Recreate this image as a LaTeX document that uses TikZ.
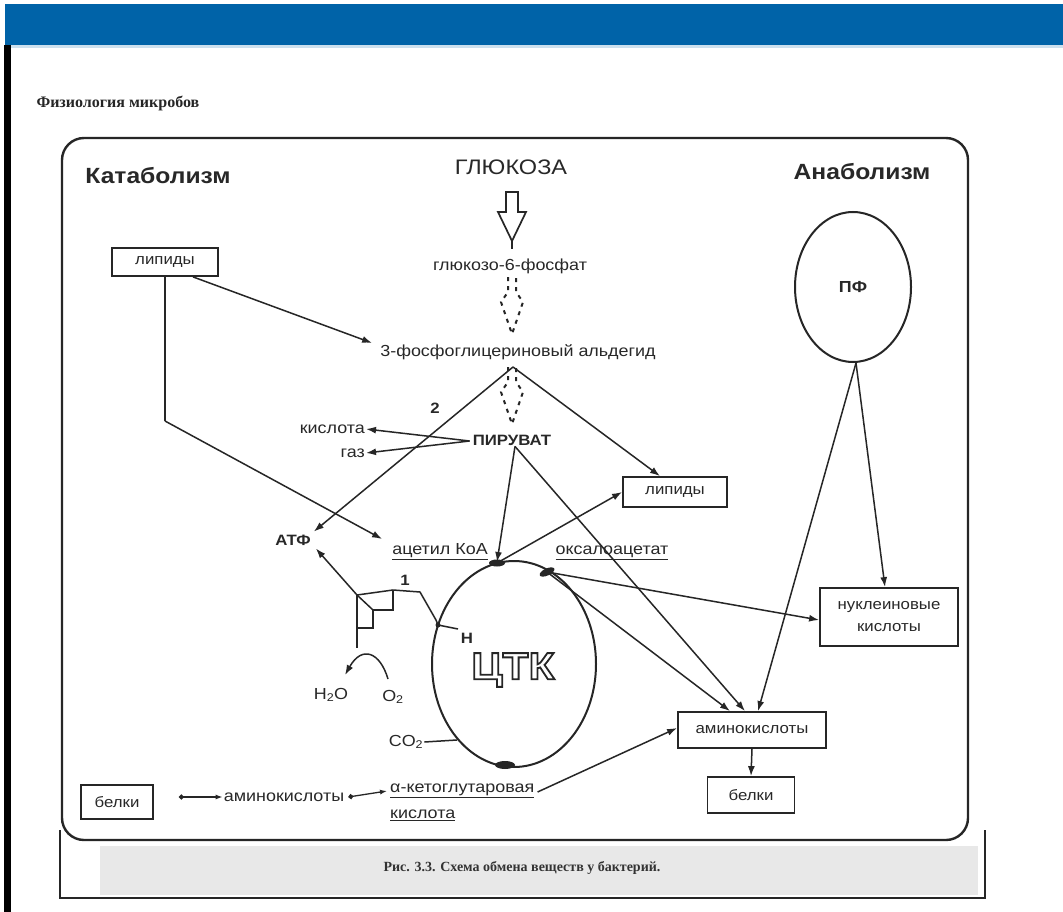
\documentclass[tikz,border=0pt]{standalone}
\usepackage{fontspec}
\setmainfont[FakeStretch=1.12]{Liberation Sans}
\newfontfamily\serifc{Liberation Serif}
\usetikzlibrary{shapes.geometric,arrows.meta,calc}
\definecolor{blu}{RGB}{0,99,168}
\definecolor{ln}{RGB}{38,38,38}
\definecolor{txt}{RGB}{40,40,40}
\begin{document}
\begin{tikzpicture}[x=1pt,y=-1pt,
  lbl/.style={font=\fontsize{16}{19}\selectfont, text=txt, inner sep=1pt},
  blbl/.style={font=\bfseries\fontsize{15}{18}\selectfont, text=txt, inner sep=1pt},
  hd/.style={font=\bfseries\fontsize{22}{26}\selectfont, text=txt, inner sep=0pt},
  bx/.style={draw=ln, line width=1.8pt, inner sep=0pt, font=\fontsize{15}{18}\selectfont, text=txt},
  arr/.style={draw=ln, line width=1.5pt, -{Latex[length=10pt,width=7pt]}},
  ln0/.style={draw=ln, line width=1.5pt},
  dotarr/.style={draw=ln, line width=1.3pt, {Circle[length=5pt]}-{Latex[length=7pt,width=5pt]}},
  dsh/.style={draw=ln, line width=2pt, dash pattern=on 4pt off 5pt}
]
\useasboundingbox (0,0) rectangle (1063,912);
\fill[white] (0,0) rectangle (1063,912);
\fill[blu] (5,4) rectangle (1063,45);
\fill[blu!20] (11,45) rectangle (1063,48);
\fill[black] (4,45) rectangle (11,912);

\node[anchor=west, font=\serifc\bfseries\fontsize{16}{19}\selectfont, text=black!85] (hdr) at (33,103) {Физиология микробов};

% caption frame
\fill[black!9] (100,846) rectangle (978,895);
\draw[ln, line width=1.6pt] (60,830) -- (60,898) -- (985,898) -- (985,830);
\node[font=\serifc\bfseries\fontsize{14}{17}\selectfont, text=black!80] (cap) at (522,868) {Рис. 3.3. Схема обмена веществ у бактерий.};

% main frame
\draw[ln, line width=2.4pt, rounded corners=22pt, fill=white] (62,138) rectangle (968,840);

% headings
\node[hd] (cat) at (158,176) {Катаболизм};
\node[hd] (ana) at (862,172) {Анаболизм};
\node[font=\fontsize{21}{25}\selectfont, text=txt, inner sep=0pt] (glu) at (511,167) {ГЛЮКОЗА};

% glycolysis chain
\node[lbl] (g6p) at (510,266) {глюкозо-6-фосфат};
\node[lbl] (gap) at (518,352) {3-фосфоглицериновый альдегид};
\node[blbl] (pyr) at (512,440) {ПИРУВАТ};

% hollow arrow glucose -> g6p
\draw[ln, line width=1.7pt, fill=white] (506,192) -- (506,212) -- (498,212) -- (512,241) -- (526,212) -- (518,212) -- (518,192) -- cycle;
\draw[ln, line width=1.7pt] (512,241) -- (512,249);

% dashed hollow arrows
\draw[dsh] (508,277) -- (508,292) -- (501,302) -- (512,334) -- (523,302) -- (516,292) -- (516,277);
\draw[dsh] (508,367) -- (508,382) -- (501,392) -- (512,424) -- (523,392) -- (516,382) -- (516,367);

% left lipids
\node[bx, minimum width=106pt, minimum height=28pt] (lip1) at (165,262) {липиды};
\draw[arr] ($(lip1.south)+(28,0)$) -- ($(gap.west)+(-7,-9)$);
\coordinate (bend) at (165,421);
\draw[ln0] (lip1.south) -- (bend);

% pyruvate side products
\node[lbl, anchor=east] (acid) at (366,429) {кислота};
\node[lbl, anchor=east] (gas) at (366,453) {газ};
\node[blbl] (two) at (435,408) {2};
\draw[arr] ($(pyr.west)+(-2,1)$) -- (acid.east);
\draw[arr] ($(pyr.west)+(-2,1)$) -- (gas.east);

% ATP, acetyl-CoA, oxaloacetate
\node[blbl] (atf) at (293,540) {АТФ};
\node[lbl] (acoa) at (440,552) {\underline{ацетил КоА}};
\node[lbl] (oxa) at (612,553) {\underline{оксалоацетат}};
\draw[arr] (bend) -- ($(acoa.west)+(-9,-13)$);

% triangle from GAP
\coordinate (apex) at (513,367);
\node[bx, minimum width=104pt, minimum height=30pt] (lip2) at (675,492) {липиды};
\draw[arr] (apex) -- ($(atf.north east)+(2,-2)$);
\draw[arr] (apex) -- ($(lip2.north)+(-15,0)$);

% TCA cycle
\node[draw=ln, line width=2pt, ellipse, minimum width=164pt, minimum height=206pt, inner sep=0pt] (tca) at (514,664) {};
\node[inner sep=0pt, font=\bfseries\fontsize{38}{42}\selectfont, text=ln] (tcat) at (513,670) {\special{pdf:literal direct 1 Tr 1.8 w}ЦТК\special{pdf:literal direct 0 Tr}};
\coordinate (ttop) at (497,563);
\coordinate (tright) at (547,572);
\fill[ln] (ttop) ellipse [x radius=8, y radius=3.5];
\fill[ln, rotate around={25:(tright)}] (tright) ellipse [x radius=8, y radius=3.5];
\fill[ln] (505,765) ellipse [x radius=10, y radius=4];
\fill[ln] (438,625) circle [radius=2.5];

% pyruvate to TCA and amino acids
\node[bx, minimum width=148pt, minimum height=36pt] (amino) at (752,730) {аминокислоты};
\node[bx, minimum width=87pt, minimum height=36pt] (belR) at (751,795) {белки};
\node[bx, minimum width=138pt, minimum height=58pt, align=center] (nuc) at (889,617) {нуклеиновые\\[4pt]кислоты};
\draw[arr] ($(pyr.south)+(3,0)$) -- ($(ttop)+(0,-1)$);
\draw[arr] ($(pyr.south)+(3,0)$) -- ($(amino.north)+(-7,0)$);
\draw[arr] (ttop) -- (lip2.west);
\draw[arr] (tright) -- ($(nuc.west)+(0,3)$);
\draw[arr] (tright) -- ($(amino.north)+(-22,0)$);

% pentose phosphate
\node[draw=ln, line width=2pt, ellipse, minimum width=116pt, minimum height=150pt, inner sep=0pt, font=\bfseries\fontsize{16}{19}\selectfont, text=txt] (pf) at (853,287) {ПФ};
\draw[arr] ($(pf.south)+(3,0)$) -- ($(nuc.north)+(-4,0)$);
\draw[arr] ($(pf.south)+(3,0)$) -- ($(amino.north)+(6,0)$);
\draw[arr] (amino.south) -- (belR.north);

% respiratory chain
\coordinate (j) at (357,595);
\draw[arr] (j) -- ($(atf.south east)+(4,2)$);
\draw[ln0] (j) -- (373,610);
\draw[ln0] (j) -- (393,590) -- (420,592) -- (436,620) -- (438,625) -- (458,629);
\draw[ln0] (393,590) -- (393,610) -- (373,610) -- (373,628) -- (357,628);
\draw[ln0] (j) -- (357,648);
\node[blbl] (one) at (405,580) {1};
\node[blbl] (hh) at (467,638) {H};
\node[lbl] (h2o) at (331,695) {H\textsubscript{2}O};
\node[lbl] (o2) at (393,697) {O\textsubscript{2}};
\draw[arr] (388,679) .. controls (380,652) and (362,645) .. (345,675);
\node[lbl] (co2) at (406,742) {CO\textsubscript{2}};
\draw[ln0] (co2.east) -- (457,740);

% bottom row
\node[bx, minimum width=72pt, minimum height=34pt] (belL) at (117,802) {белки};
\node[lbl] (aminoL) at (284,797) {аминокислоты};
\node[lbl, anchor=west] (akg) at (389,791) {\underline{α-кетоглутаровая}};
\node[lbl, anchor=west] (kisl) at (389,815) {\underline{кислота}};
\draw[dotarr] ($(belL.east)+(25,-5)$) -- (aminoL.west);
\draw[dotarr] ($(aminoL.east)+(3,0)$) -- ($(akg.west)+(-2,0)$);
\draw[arr] ($(akg.east)+(2,1)$) -- ($(amino.west)+(0,-2)$);
\end{tikzpicture}
\end{document}
